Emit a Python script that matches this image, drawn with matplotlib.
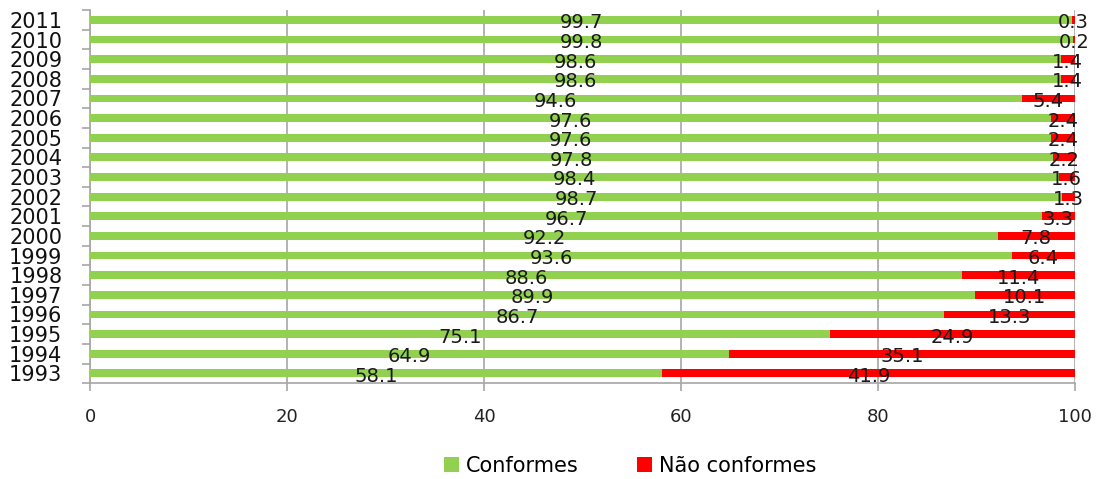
import matplotlib
matplotlib.use("Agg")
import matplotlib.pyplot as plt
import numpy as np

years = ["1993", "1994", "1995", "1996", "1997", "1998", "1999", "2000", "2001", "2002",
         "2003", "2004", "2005", "2006", "2007", "2008", "2009", "2010", "2011"]
conformes = [58.1, 64.9, 75.1, 86.7, 89.9, 88.6, 93.6, 92.2, 96.7, 98.7,
             98.4, 97.8, 97.6, 97.6, 94.6, 98.6, 98.6, 99.8, 99.7]
nao_conformes = [41.9, 35.1, 24.9, 13.3, 10.1, 11.4, 6.4, 7.8, 3.3, 1.3,
                 1.6, 2.2, 2.4, 2.4, 5.4, 1.4, 1.4, 0.2, 0.3]
xticks = [0, 20, 40, 60, 80, 100]

GREEN = "#92D050"
RED = "#FF0000"
GRID = "#A6A6A6"

plt.rcParams["font.family"] = ["DejaVu Sans"]

fig = plt.figure(figsize=(11, 4.79), dpi=100)
ax = fig.add_axes([0.082, 0.2, 0.895, 0.779])

y = np.arange(len(years))
h = 0.4
b1 = ax.barh(y, conformes, height=h, color=GREEN, label="Conformes", zorder=3)
b2 = ax.barh(y, nao_conformes, left=conformes, height=h, color=RED,
             label="Não conformes", zorder=3)

for yi, c, n in zip(y, conformes, nao_conformes):
    ax.text(c / 2, yi - 0.15, f"{c:.1f}", ha="center", va="center",
            fontsize=14, color="#1a1a1a", zorder=4)
    ax.text(c + n / 2, yi - 0.15, f"{n:.1f}", ha="center", va="center",
            fontsize=14, color="#1a1a1a", zorder=4)

ax.set_xlim(0, 100)
ax.set_ylim(-0.5, len(years) - 0.5)
ax.set_xticks(xticks)
ax.set_xticklabels([str(t) for t in xticks], fontsize=13, color="#222222")
ax.tick_params(axis="x", length=6, color=GRID, width=1.2, pad=12)

ax.set_yticks(y)
ax.set_yticklabels(years, fontsize=15, color="#111111")
ax.tick_params(axis="y", length=0, pad=20)
ax.set_yticks(np.arange(-0.5, len(years)), minor=True)
ax.tick_params(axis="y", which="minor", length=6, color=GRID, width=1.2)

ax.grid(axis="x", color=GRID, linewidth=1.2, zorder=0)
ax.grid(axis="y", visible=False)
for s in ["top", "right"]:
    ax.spines[s].set_visible(False)
for s in ["left", "bottom"]:
    ax.spines[s].set_color(GRID)
    ax.spines[s].set_linewidth(1.2)

fig.legend(handles=[b1, b2], loc="center", bbox_to_anchor=(0.573, 0.028), ncol=2,
           frameon=False, fontsize=15, handlelength=0.7, handleheight=0.7,
           columnspacing=2.8, handletextpad=0.35)

fig.savefig("out.png", dpi=100)
